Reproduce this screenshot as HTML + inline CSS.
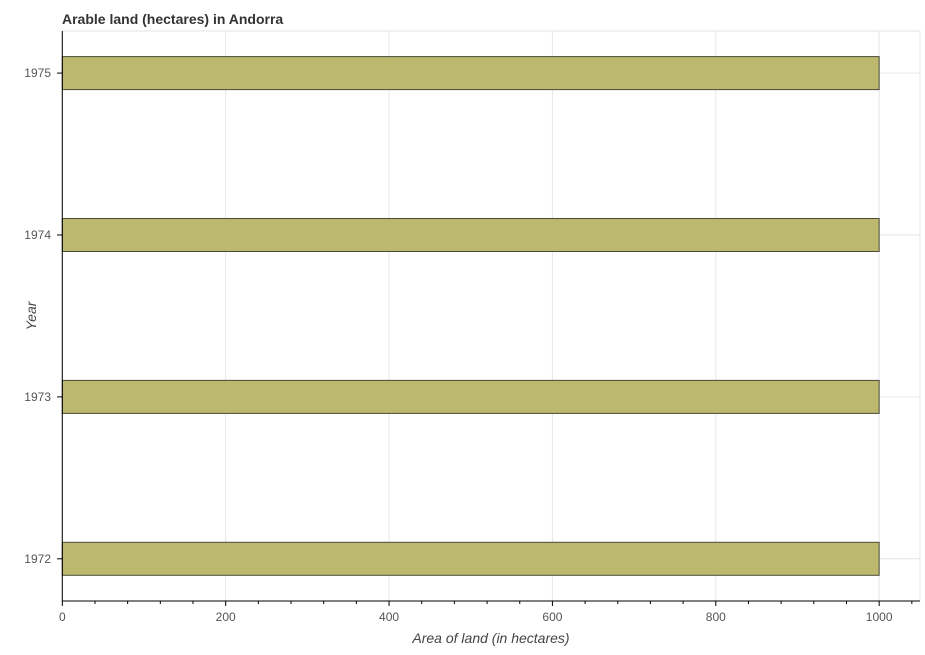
<!DOCTYPE html>
<html><head><meta charset="utf-8"><style>
body{margin:0;background:#fff;font-family:"Liberation Sans",sans-serif}
</style></head><body>
<svg width="925" height="650" id="c">
<text x="62" y="24" font-size="14" font-weight="bold" fill="#333">Arable land (hectares) in Andorra</text>
<text x="491" y="643" font-size="14" font-style="italic" text-anchor="middle" fill="#444">Area of land (in hectares)</text>
<text transform="translate(36,316) rotate(-90)" font-size="14" font-style="italic" text-anchor="middle" fill="#444">Year</text>
</svg>
<script>
const categories=["1972","1973","1974","1975"];
const values=[1000,1000,1000,1000];
const xTicks=[0,200,400,600,800,1000];
const svg=document.getElementById('c');const NS='http://www.w3.org/2000/svg';
const L=62.3,R=920,T=31,B=601,XMAX=1050;
const x=v=>L+(R-L)*v/XMAX;
const yc=i=>558.8-i*161.9;
function mk(t,a,p){const e=document.createElementNS(NS,t);for(const k in a)e.setAttribute(k,a[k]);(p||svg).appendChild(e);return e;}
const g=mk('g',{});


mk('rect',{x:L,y:T,width:R-L,height:B-T,fill:'none',stroke:'#e6e6e6'},g);
for(const t of xTicks){const l=mk('line',{x1:x(t),x2:x(t),y1:T,y2:B,stroke:'#e6e6e6'},g);

}
categories.forEach((c,i)=>{const l=mk('line',{x1:L,x2:R,y1:yc(i),y2:yc(i),stroke:'#e6e6e6'},g);

});
categories.forEach((c,i)=>{
const r=mk('rect',{x:L,y:yc(i)-16.5,width:x(values[i])-L,height:33,fill:'#bcb86d',stroke:'#4a4a3a','stroke-width':1});


const t=mk('text',{x:51,y:yc(i)+4,'font-size':12,'text-anchor':'end',fill:'#555'});t.textContent=c;


mk('line',{x1:57,x2:L,y1:yc(i),y2:yc(i),stroke:'#000'});
});
mk('line',{x1:L,x2:L,y1:T,y2:B,stroke:'#000'});
mk('line',{x1:L,x2:R,y1:B,y2:B,stroke:'#000'});
for(let v=0;v<=XMAX;v+=40){mk('line',{x1:x(v),x2:x(v),y1:B,y2:B+(v%200===0?5:3),stroke:'#000'});}
for(const t of xTicks){const e=mk('text',{x:x(t),y:B+20,'font-size':12,'text-anchor':'middle',fill:'#555'});e.textContent=t;

}
</script>
</body></html>
